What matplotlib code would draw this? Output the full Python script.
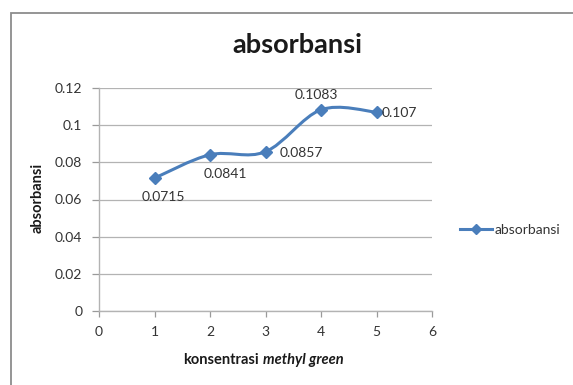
import matplotlib
matplotlib.use("Agg")
import matplotlib.pyplot as plt
from matplotlib.path import Path
from matplotlib.patches import PathPatch, Rectangle
from matplotlib.lines import Line2D
import numpy as np

# data
konsentrasi = [1, 2, 3, 4, 5]
absorbansi = [0.0715, 0.0841, 0.0857, 0.1083, 0.107]
value_labels = ["0.0715", "0.0841", "0.0857", "0.1083", "0.107"]
x_ticks = [0, 1, 2, 3, 4, 5, 6]
y_ticks = [0, 0.02, 0.04, 0.06, 0.08, 0.1, 0.12]
y_tick_labels = ["0", "0.02", "0.04", "0.06", "0.08", "0.1", "0.12"]

W, H = 573, 385
BLUE = "#4a7ebb"
GRID = "#b3b3b3"
FONT = "Lato"
FS = 10

plt.rcParams["font.family"] = [FONT, "DejaVu Sans"]

fig = plt.figure(figsize=(W / 100, H / 100), dpi=100)


def fx(px):
    return px / W


def fy(py):
    return 1 - py / H


# chart area border (left and top edges fall inside the canvas)
fig.patches.append(Rectangle((fx(11), fy(H + 5)), fx(W + 20) - fx(11), fy(13) - fy(H + 5),
                             transform=fig.transFigure, fill=False,
                             edgecolor="#8c8c8c", linewidth=1.3))

ax = fig.add_axes([fx(99), fy(311), fx(432) - fx(99), fy(88) - fy(311)])
ax.set_xlim(0, 6)
ax.set_ylim(0, 0.12)
ax.set_xticks(x_ticks)
ax.set_xticklabels([str(t) for t in x_ticks])
ax.set_yticks(y_ticks)
ax.set_yticklabels(y_tick_labels)
ax.tick_params(axis="both", labelsize=FS, colors="#9a9a9a", labelcolor="#333333",
               length=4, width=0.9, pad=4)
ax.tick_params(axis="x", pad=7)
ax.tick_params(axis="y", length=5, pad=7)
for s in ["top", "right"]:
    ax.spines[s].set_visible(False)
for s in ["left", "bottom"]:
    ax.spines[s].set_color(GRID)
    ax.spines[s].set_linewidth(1.0)
ax.grid(axis="y", color=GRID, linewidth=0.9)
ax.set_axisbelow(True)

# smoothed line through the points (cubic Bezier segments)
xs = np.array(konsentrasi, dtype=float)
ys = np.array(absorbansi, dtype=float)
pts = np.column_stack([xs, ys])
n = len(pts)
verts = [pts[0]]
codes = [Path.MOVETO]
for i in range(n - 1):
    p0 = pts[i - 1] if i > 0 else pts[i]
    p1 = pts[i]
    p2 = pts[i + 1]
    p3 = pts[i + 2] if i + 2 < n else pts[i + 1]
    c1 = p1 + (p2 - p0) / 6.0
    c2 = p2 - (p3 - p1) / 6.0
    verts += [c1, c2, p2]
    codes += [Path.CURVE4] * 3
ax.add_patch(PathPatch(Path(verts, codes), facecolor="none", edgecolor=BLUE,
                       linewidth=2.2, capstyle="round", joinstyle="round", zorder=3))
ax.plot(konsentrasi, absorbansi, linestyle="none", marker="D", markersize=6.5,
        color=BLUE, zorder=4)

# value labels (offsets in pixels)
offsets = [(9, -19, "center", "center"),
           (15, -19, "center", "center"),
           (14, -1, "left", "center"),
           (-5, 15, "center", "center"),
           (5, -1, "left", "center")]
for x, y, txt, (dx, dy, ha, va) in zip(konsentrasi, absorbansi, value_labels, offsets):
    ax.annotate(txt, (x, y), xytext=(dx * 0.72, dy * 0.72), textcoords="offset points",
                ha=ha, va=va, fontsize=FS, color="#333333", zorder=5)

# title and axis titles
fig.text(fx(297), fy(45), "absorbansi", ha="center", va="center",
         fontsize=19.5, fontweight="bold", color="#1a1a1a")
fig.text(fx(38), fy(198), "absorbansi", ha="center", va="center", rotation=90,
         fontsize=10.5, fontweight="bold", color="#1a1a1a")
fig.text(fx(259), fy(360), "konsentrasi", ha="right", va="center",
         fontsize=10.5, fontweight="bold", color="#1a1a1a")
fig.text(fx(263), fy(360), "methyl green", ha="left", va="center",
         fontsize=10.5, fontweight="bold", fontstyle="italic", color="#1a1a1a")

# legend
handle = Line2D([], [], color=BLUE, linewidth=2.2, marker="D", markersize=5.5)
fig.legend([handle], ["absorbansi"], loc="center left",
           bbox_to_anchor=(fx(460), fy(230)), bbox_transform=fig.transFigure,
           frameon=False, fontsize=FS, handlelength=2.3, handletextpad=0.2,
           borderpad=0, borderaxespad=0, labelcolor="#333333")

fig.savefig("out.png", dpi=100)
